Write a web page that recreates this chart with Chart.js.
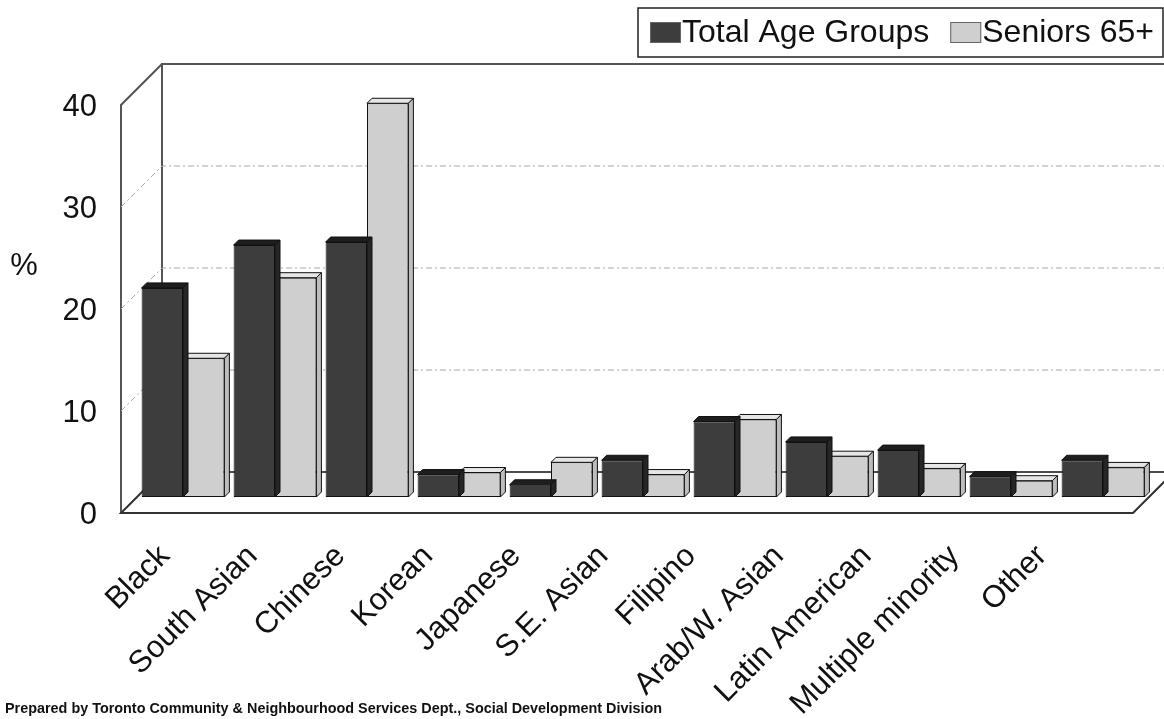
<!DOCTYPE html>
<html>
<head>
<meta charset="utf-8">
<script src="https://cdn.jsdelivr.net/npm/chart.js@4.4.1/dist/chart.umd.min.js"></script>
<style>
  html, body { margin: 0; padding: 0; background: #ffffff; }
  #wrap { width: 1164px; height: 719px; }
</style>
</head>
<body>
<div id="wrap"><canvas id="chart" width="1164" height="719"></canvas></div>
<script>
// Visible minority groups, share of population (%)
const categories = ['Black', 'South Asian', 'Chinese', 'Korean', 'Japanese', 'S.E. Asian',
                    'Filipino', 'Arab/W. Asian', 'Latin American', 'Multiple minority', 'Other'];
const totalAgeGroups = [20.5, 24.7, 25.0, 2.2, 1.2, 3.6, 7.4, 5.4, 4.6, 2.0, 3.6];
const seniors65 = [13.6, 21.5, 38.6, 2.4, 3.4, 2.2, 7.6, 4.0, 2.8, 1.6, 2.9];
const yTicks = [0, 10, 20, 30, 40];
const seriesNames = ['Total Age Groups', 'Seniors 65+'];
const unitLabel = '%';
const sourceNote = 'Prepared by Toronto Community & Neighbourhood Services Dept., Social Development Division';

const DARK = '#3d3d3d';
const LIGHT = '#cfcfcf';
const FONT = 'Arial, "Liberation Sans", Helvetica, sans-serif';

// depth of the floor / walls relative to the plane the bars stand in
const FRONT = { dx: -16, dy: 16 };
const BACK = { dx: 25, dy: -25 };
const BAR_DEPTH = 5;

const shade = {
  [DARK]: { top: '#1e1e1e', side: '#262626' },
  [LIGHT]: { top: '#e6e6e6', side: '#bdbdbd' }
};

const box3d = {
  id: 'box3d',
  beforeDatasetsDraw(chart) {
    const { ctx, chartArea: a, scales } = chart;
    const y = scales.y;
    const y0 = y.getPixelForValue(0), yTop = y.getPixelForValue(yTicks[yTicks.length - 1]);
    const L = a.left, R = a.right;
    ctx.save();
    // back wall
    ctx.strokeStyle = '#555';
    ctx.lineWidth = 2;
    ctx.beginPath();
    ctx.moveTo(L + BACK.dx, y0 + BACK.dy);
    ctx.lineTo(L + BACK.dx, yTop + BACK.dy);
    ctx.lineTo(R + BACK.dx + 40, yTop + BACK.dy);
    ctx.stroke();
    // left wall
    ctx.beginPath();
    ctx.moveTo(L + FRONT.dx, y0 + FRONT.dy);
    ctx.lineTo(L + FRONT.dx, yTop + FRONT.dy);
    ctx.lineTo(L + BACK.dx, yTop + BACK.dy);
    ctx.stroke();
    // gridlines on back wall and left wall
    ctx.strokeStyle = '#a8a8a8';
    ctx.lineWidth = 1;
    ctx.setLineDash([6, 3, 2, 3]);
    yTicks.slice(1, -1).forEach(v => {
      const py = y.getPixelForValue(v);
      ctx.beginPath();
      ctx.moveTo(L + FRONT.dx, py + FRONT.dy);
      ctx.lineTo(L + BACK.dx, py + BACK.dy);
      ctx.lineTo(R + BACK.dx + 40, py + BACK.dy);
      ctx.stroke();
    });
    ctx.setLineDash([]);
    // floor
    ctx.strokeStyle = '#333';
    ctx.lineWidth = 2;
    ctx.beginPath();
    ctx.moveTo(L + BACK.dx, y0 + BACK.dy);
    ctx.lineTo(L + FRONT.dx, y0 + FRONT.dy);
    ctx.lineTo(R + FRONT.dx, y0 + FRONT.dy);
    ctx.lineTo(R + BACK.dx, y0 + BACK.dy);
    ctx.stroke();
    ctx.strokeStyle = '#111';
    ctx.lineWidth = 1.5;
    ctx.beginPath();
    ctx.moveTo(L + BACK.dx, y0 + BACK.dy);
    ctx.lineTo(R + BACK.dx + 40, y0 + BACK.dy);
    ctx.stroke();
    ctx.restore();
  },
  beforeDatasetDraw(chart, args) {
    // top and side faces of each bar
    const { ctx } = chart;
    const meta = chart.getDatasetMeta(args.index);
    const color = chart.data.datasets[args.index].backgroundColor;
    const d = BAR_DEPTH;
    ctx.save();
    ctx.strokeStyle = '#111';
    ctx.lineWidth = 1;
    meta.data.forEach(bar => {
      const p = bar.getProps(['x', 'y', 'base', 'width'], true);
      const l = p.x - p.width / 2, r = p.x + p.width / 2, t = p.y, b = p.base;
      ctx.fillStyle = shade[color].top;
      ctx.beginPath();
      ctx.moveTo(l, t); ctx.lineTo(l + d, t - d); ctx.lineTo(r + d, t - d); ctx.lineTo(r, t);
      ctx.closePath(); ctx.fill(); ctx.stroke();
      ctx.fillStyle = shade[color].side;
      ctx.beginPath();
      ctx.moveTo(r, t); ctx.lineTo(r + d, t - d); ctx.lineTo(r + d, b - d); ctx.lineTo(r, b);
      ctx.closePath(); ctx.fill(); ctx.stroke();
    });
    ctx.restore();
  },
  afterDraw(chart) {
    const { ctx } = chart;
    ctx.save();
    // unit label
    ctx.fillStyle = '#111';
    ctx.font = '31px ' + FONT;
    ctx.textAlign = 'center';
    ctx.textBaseline = 'middle';
    ctx.fillText(unitLabel, 24, 266);
    // source note
    ctx.font = 'bold 14.4px ' + FONT;
    ctx.textAlign = 'left';
    ctx.fillText(sourceNote, 5, 709);
    // legend
    ctx.strokeStyle = '#222';
    ctx.lineWidth = 1.5;
    ctx.strokeRect(638, 8, 525, 49);
    ctx.font = '32px ' + FONT;
    let x = 650;
    chart.data.datasets.forEach(ds => {
      ctx.fillStyle = ds.backgroundColor;
      ctx.fillRect(x, 22, 31, 21);
      ctx.strokeStyle = '#666';
      ctx.lineWidth = 1;
      ctx.strokeRect(x + 0.5, 22.5, 30, 20);
      ctx.fillStyle = '#111';
      ctx.fillText(ds.label, x + 32, 33);
      x += 32 + ctx.measureText(ds.label).width + 21;
    });
    ctx.restore();
  }
};

new Chart(document.getElementById('chart'), {
  type: 'bar',
  data: {
    labels: categories,
    datasets: [
      { label: seriesNames[0], data: totalAgeGroups, backgroundColor: DARK,
        borderColor: '#111', borderWidth: 1, borderSkipped: false },
      { label: seriesNames[1], data: seniors65, backgroundColor: LIGHT,
        borderColor: '#111', borderWidth: 1, borderSkipped: false }
    ]
  },
  options: {
    responsive: false,
    animation: false,
    devicePixelRatio: 1,
    layout: { padding: { left: 5, right: 15, top: 89, bottom: 0 } },
    datasets: { bar: { categoryPercentage: 0.9, barPercentage: 1.0 } },
    plugins: {
      legend: { display: false },
      tooltip: { enabled: false },
      title: { display: false }
    },
    scales: {
      x: { type: 'category', display: false },
      xl: {
        type: 'linear', position: 'bottom', offset: false, bounds: 'data',
        min: -0.319, max: 11.22,
        grid: { display: false, drawTicks: false, offset: false }, border: { display: false },
        afterBuildTicks: s => { s.ticks = categories.map((c, i) => ({ value: i })); },
        afterFit: s => { s.height = 222; s.paddingLeft = 0; s.paddingRight = 0; },
        ticks: {
          autoSkip: false, minRotation: 45, maxRotation: 45, padding: 41,
          color: '#111', font: { family: FONT, size: 31 },
          callback: v => categories[v]
        }
      },
      y: {
        min: 0, max: 40,
        grid: { display: false, drawTicks: false }, border: { display: false },
        afterBuildTicks: s => { s.ticks = yTicks.map(v => ({ value: v })); },
        afterFit: s => { s.width = 132; },
        ticks: { padding: 40, labelOffset: 18, color: '#111', font: { family: FONT, size: 31 } }
      }
    }
  },
  plugins: [box3d]
});
</script>
</body>
</html>
